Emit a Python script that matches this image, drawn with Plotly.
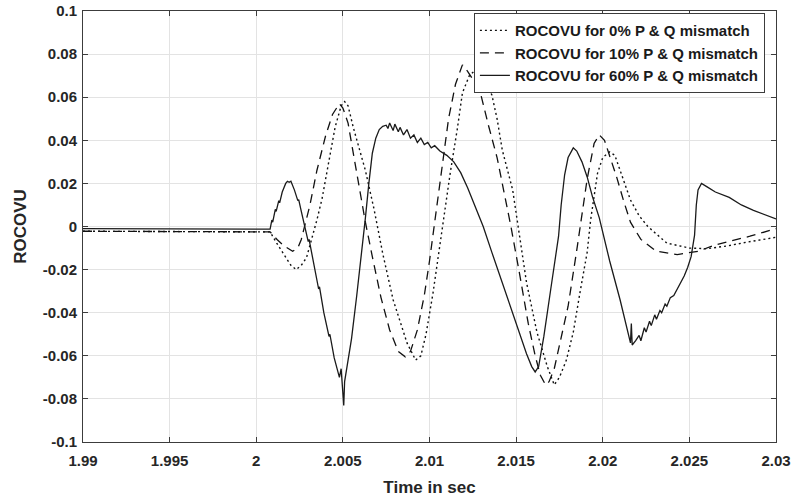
import plotly.graph_objects as go

# ROCOVU response after the disturbance, three P & Q mismatch levels
t_0 = [1.9900, 1.9950, 2.0000, 2.0008, 2.0012, 2.0016, 2.0020, 2.0023, 2.0026,
       2.0029, 2.0032, 2.0035, 2.0038, 2.0041, 2.00455, 2.0049, 2.0051, 2.0053,
       2.0056, 2.0063, 2.0068, 2.0073, 2.0079, 2.0087, 2.0092, 2.0095, 2.0098,
       2.0102, 2.0106, 2.0110, 2.0112, 2.0116, 2.0119, 2.0123, 2.0127, 2.0131,
       2.0136, 2.0139, 2.0142, 2.0148, 2.0152, 2.0156, 2.0162, 2.0168, 2.0172,
       2.0175, 2.0179, 2.0183, 2.0187, 2.0191, 2.0193, 2.0197, 2.0200, 2.0204,
       2.0207, 2.0211, 2.0216, 2.0221, 2.0226, 2.0237, 2.0250, 2.0260, 2.0272,
       2.0283, 2.0300]
v_0 = [-0.0022, -0.0024, -0.0025, -0.0025, -0.008, -0.013, -0.018, -0.020, -0.018,
       -0.0145, -0.006, 0.003, 0.013, 0.026, 0.046, 0.056, 0.058, 0.056,
       0.046, 0.026, 0.008, -0.0125, -0.034, -0.054, -0.062, -0.060, -0.050,
       -0.031, -0.008, 0.0155, 0.025, 0.045, 0.062, 0.070, 0.073, 0.070,
       0.061, 0.050, 0.0355, 0.017, -0.004, -0.026, -0.049, -0.065, -0.0735,
       -0.070, -0.062, -0.049, -0.030, -0.012, 0.003, 0.0248, 0.032, 0.0346,
       0.033, 0.024, 0.0123, 0.005, 0.000, -0.0077, -0.010, -0.0103, -0.009,
       -0.0073, -0.005]

t_10 = [1.9900, 1.9950, 2.0000, 2.0008, 2.0012, 2.0016, 2.0021, 2.0024, 2.0026,
        2.0028, 2.0031, 2.0035, 2.0040, 2.0044, 2.0048, 2.0050, 2.0053, 2.0056,
        2.0059, 2.0063, 2.0067, 2.0072, 2.0077, 2.0082, 2.0086, 2.0089, 2.0093,
        2.0097, 2.0100, 2.0107, 2.0111, 2.0115, 2.0119, 2.0122, 2.0129, 2.0134,
        2.0139, 2.0143, 2.0147, 2.0152, 2.0157, 2.0161, 2.0164, 2.0167, 2.0169,
        2.0172, 2.0176, 2.0180, 2.0185, 2.0189, 2.0191, 2.0195, 2.0198, 2.0201,
        2.0204, 2.0208, 2.0212, 2.0216, 2.0222, 2.0231, 2.0243, 2.0255, 2.0265,
        2.0285, 2.0300]
v_10 = [-0.0022, -0.0024, -0.0025, -0.0025, -0.006, -0.009, -0.0115, -0.010, -0.006,
        0.000, 0.010, 0.026, 0.042, 0.052, 0.057, 0.055, 0.048, 0.034,
        0.020, 0.002, -0.014, -0.033, -0.048, -0.058, -0.0605, -0.058, -0.048,
        -0.032, -0.016, 0.0276, 0.050, 0.066, 0.075, 0.072, 0.0633, 0.047,
        0.032, 0.016, 0.000, -0.022, -0.045, -0.060, -0.069, -0.0735, -0.072,
        -0.066, -0.052, -0.037, -0.011, 0.012, 0.022, 0.0385, 0.0425, 0.040,
        0.033, 0.023, 0.012, 0.002, -0.006, -0.0115, -0.013, -0.0115, -0.0085,
        -0.0045, -0.001]

t_60 = [1.9900, 1.9950, 2.0000, 2.0008, 2.0009, 2.00095, 2.0011, 2.00115, 2.0013,
        2.00135, 2.0015, 2.0017, 2.0018, 2.0019, 2.0020, 2.0022, 2.0024, 2.00245,
        2.0026, 2.0028, 2.0030, 2.00305, 2.0033, 2.0036, 2.00365, 2.0039, 2.0042,
        2.00425, 2.0045, 2.0047, 2.0048, 2.0049, 2.00505, 2.0051, 2.0053, 2.0055,
        2.0058, 2.0061, 2.0063, 2.0065, 2.0067, 2.0069, 2.0071, 2.0073, 2.0075,
        2.0076, 2.0077, 2.0079, 2.0080, 2.0082, 2.0083, 2.0085, 2.0087, 2.0089,
        2.0091, 2.0093, 2.0095, 2.0097, 2.0099, 2.0101, 2.0103, 2.0106, 2.0110,
        2.0114, 2.0118, 2.0122, 2.0126, 2.0131, 2.0136, 2.0141, 2.0146, 2.0151,
        2.0156, 2.0159, 2.0161, 2.0163, 2.0166, 2.0170, 2.0174, 2.01745, 2.0176,
        2.0178, 2.0180, 2.0183, 2.0185, 2.0188, 2.0191, 2.0194, 2.0198, 2.0204,
        2.0210, 2.0214, 2.0216, 2.02165, 2.0217, 2.0219, 2.0221, 2.0222, 2.0224,
        2.0225, 2.0227, 2.0228, 2.0230, 2.0231, 2.0233, 2.0234, 2.0236, 2.0237,
        2.0239, 2.0241, 2.0243, 2.0245, 2.0247, 2.0249, 2.0251, 2.0253, 2.0254,
        2.0255, 2.0257, 2.0260, 2.0265, 2.0273, 2.0280, 2.0287, 2.0294, 2.0300]
v_60 = [-0.0010, -0.0011, -0.0012, -0.0012, 0.003, 0.002, 0.008, 0.007, 0.012,
        0.011, 0.016, 0.020, 0.021, 0.0205, 0.021, 0.017, 0.012, 0.0125,
        0.007, 0.000, -0.007, -0.006, -0.017, -0.029, -0.028, -0.040, -0.051,
        -0.050, -0.061, -0.068, -0.070, -0.066, -0.083, -0.072, -0.062, -0.052,
        -0.032, -0.012, 0.004, 0.020, 0.034, 0.041, 0.045, 0.0465, 0.047,
        0.0455, 0.048, 0.0445, 0.0475, 0.044, 0.046, 0.0425, 0.045, 0.041,
        0.0425, 0.039, 0.041, 0.038, 0.039, 0.0365, 0.0375, 0.035, 0.033,
        0.030, 0.025, 0.018, 0.010, 0.000, -0.012, -0.024, -0.036, -0.048,
        -0.059, -0.065, -0.0675, -0.065, -0.051, -0.029, -0.007, -0.0045, 0.010,
        0.024, 0.032, 0.0365, 0.035, 0.030, 0.023, 0.014, 0.004, -0.016,
        -0.034, -0.047, -0.054, -0.045, -0.055, -0.053, -0.0505, -0.053, -0.047,
        -0.049, -0.044, -0.046, -0.041, -0.043, -0.039, -0.040, -0.036, -0.037,
        -0.033, -0.032, -0.029, -0.026, -0.023, -0.019, -0.014, -0.004, 0.010,
        0.017, 0.0200, 0.0185, 0.016, 0.0135, 0.0100, 0.0075, 0.0052, 0.0035]

names = ["ROCOVU for 0% P & Q mismatch",
         "ROCOVU for 10% P & Q mismatch",
         "ROCOVU for 60% P & Q mismatch"]

x_ticks = [1.99, 1.995, 2.0, 2.005, 2.01, 2.015, 2.02, 2.025, 2.03]
x_labels = ["1.99", "1.995", "2", "2.005", "2.01", "2.015", "2.02", "2.025", "2.03"]
y_ticks = [-0.1, -0.08, -0.06, -0.04, -0.02, 0.0, 0.02, 0.04, 0.06, 0.08, 0.1]
y_labels = ["-0.1", "-0.08", "-0.06", "-0.04", "-0.02", "0", "0.02", "0.04",
            "0.06", "0.08", "0.1"]

FONT = "Liberation Sans, Arial, sans-serif"
AXIS = "#3c3c3c"
TEXT = "#262626"

fig = go.Figure()
fig.add_trace(go.Scatter(x=t_0, y=v_0, mode="lines", name=names[0],
                         line=dict(color="#111111", width=1.4, dash="2px,3px")))
fig.add_trace(go.Scatter(x=t_10, y=v_10, mode="lines", name=names[1],
                         line=dict(color="#111111", width=1.3, dash="9px,6px")))
fig.add_trace(go.Scatter(x=t_60, y=v_60, mode="lines", name=names[2],
                         line=dict(color="#1a1a1a", width=1.3)))

axis_common = dict(showgrid=True, gridcolor="#e3e3e3", gridwidth=1,
                   showline=True, linecolor=AXIS, linewidth=1, mirror="ticks",
                   ticks="inside", ticklen=5, tickcolor=AXIS, zeroline=False,
                   automargin=False,
                   tickfont=dict(family=FONT, size=15, color=TEXT, weight="bold"))

fig.update_layout(
    width=791, height=497,
    margin=dict(l=83, r=15, t=11, b=55),
    paper_bgcolor="white", plot_bgcolor="white",
    font=dict(family=FONT, color=TEXT),
    xaxis=dict(range=[1.99, 2.03], tickvals=x_ticks, ticktext=x_labels,
               ticklabelstandoff=5,
               title=dict(text="Time in sec", standoff=13,
                          font=dict(family=FONT, size=17, color=TEXT, weight="bold")),
               **axis_common),
    yaxis=dict(range=[-0.1, 0.1], tickvals=y_ticks, ticktext=y_labels,
               ticklabelstandoff=2,
               title=dict(text="ROCOVU", standoff=11,
                          font=dict(family=FONT, size=17, color=TEXT, weight="bold")),
               **axis_common),
    legend=dict(x=0.984, y=0.995, xanchor="right", yanchor="top",
                bgcolor="white", bordercolor=AXIS, borderwidth=1,
                font=dict(family=FONT, size=15, color="#1a1a1a", weight="bold"),
                tracegroupgap=0),
    showlegend=True,
)

fig.write_html("out.html")
